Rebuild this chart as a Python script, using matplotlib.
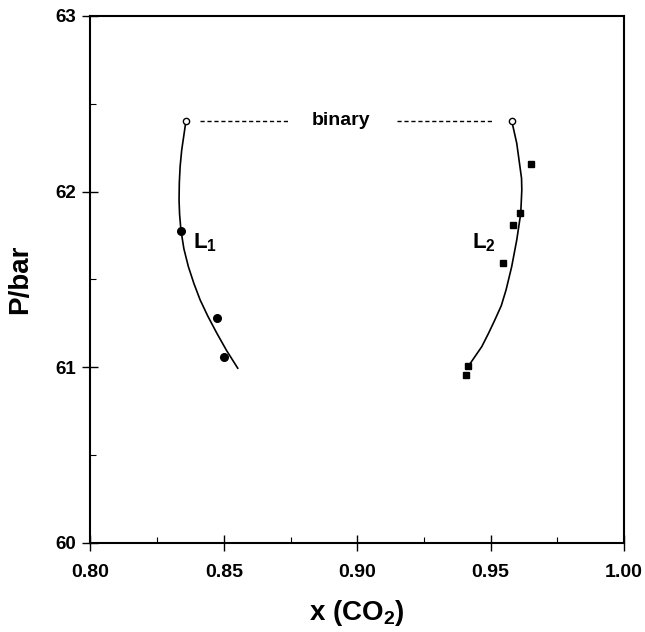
import matplotlib
matplotlib.use("Agg")
import matplotlib.pyplot as plt
from matplotlib.ticker import MultipleLocator

plt.rcParams['font.family'] = ['Liberation Sans', 'DejaVu Sans']
plt.rcParams['font.weight'] = 'bold'
plt.rcParams['mathtext.fontset'] = 'custom'
plt.rcParams['mathtext.rm'] = 'Liberation Sans:bold'
plt.rcParams['mathtext.default'] = 'rm'

# L1 branch: model curve and measured points
l1_curve_x = [0.8358, 0.8350, 0.8342, 0.8336, 0.8333, 0.8332, 0.8334, 0.8339, 0.8350,
              0.8367, 0.8388, 0.8411, 0.8440, 0.8473, 0.8510, 0.8552]
l1_curve_p = [62.404, 62.320, 62.237, 62.142, 62.050, 61.952, 61.870, 61.781, 61.675,
              61.572, 61.475, 61.383, 61.290, 61.195, 61.095, 60.994]
l1_x = [0.8338, 0.8475, 0.8500]
l1_p = [61.776, 61.279, 61.056]

# L2 branch
l2_curve_x = [0.9579, 0.9598, 0.9610, 0.9616, 0.9617, 0.9613, 0.9598, 0.9579, 0.9558,
              0.9540, 0.9516, 0.9492, 0.9467, 0.9420]
l2_curve_p = [62.404, 62.275, 62.142, 62.075, 62.009, 61.876, 61.724, 61.572, 61.440,
              61.350, 61.269, 61.192, 61.117, 61.013]
l2_x = [0.9650, 0.9610, 0.9583, 0.9545, 0.9416, 0.9408]
l2_p = [62.157, 61.880, 61.808, 61.595, 61.009, 60.956]

# binary end points and tie line
binary_x = [0.8358, 0.9579]
binary_p = [62.404, 62.404]
tie_left_x = [0.8411, 0.8749]
tie_right_x = [0.9149, 0.9505]

fig = plt.figure(figsize=(6.45, 6.32), dpi=100)
ax = fig.add_axes([0.1403, 0.1413, 0.8271, 0.8334])

ax.plot(l1_curve_x, l1_curve_p, color='black', lw=1.2)
ax.plot(l2_curve_x, l2_curve_p, color='black', lw=1.2)
ax.plot(l1_x, l1_p, 'o', color='black', ms=5.5)
ax.plot(l2_x, l2_p, 's', color='black', ms=5)
ax.plot(binary_x, binary_p, 'o', mfc='white', mec='black', ms=4.5, mew=1)
ax.plot(tie_left_x, [binary_p[0]] * 2, color='black', lw=1, ls=(0, (3, 2)))
ax.plot(tie_right_x, [binary_p[0]] * 2, color='black', lw=1, ls=(0, (3, 2)))

ax.text(0.8939, 62.404, 'binary', ha='center', va='center', fontsize=14, fontweight='bold')
ax.text(0.8385, 61.707, 'L$_1$', ha='left', va='center', fontsize=16, fontweight='bold')
ax.text(0.9429, 61.707, 'L$_2$', ha='left', va='center', fontsize=16, fontweight='bold')

ax.set_xlim(0.80, 1.00)
ax.set_ylim(60, 63)
ax.xaxis.set_major_locator(MultipleLocator(0.05))
ax.xaxis.set_minor_locator(MultipleLocator(0.025))
ax.yaxis.set_major_locator(MultipleLocator(1))
ax.yaxis.set_minor_locator(MultipleLocator(0.5))
ax.xaxis.set_major_formatter(matplotlib.ticker.FormatStrFormatter('%.2f'))

ax.tick_params(which='major', direction='inout', length=11, width=1)
ax.tick_params(which='minor', direction='in', length=4, width=0.8)
ax.tick_params(axis='x', which='major', pad=10, labelsize=14)
ax.tick_params(axis='y', which='major', pad=5, labelsize=13.5)
ax.tick_params(top=False, right=False, which='both')
for s in ax.spines.values():
    s.set_linewidth(1.5)
for lab in ax.get_xticklabels() + ax.get_yticklabels():
    lab.set_fontweight('bold')

ax.set_xlabel('x (CO$_2$)', fontsize=20, fontweight='bold', labelpad=12)
ax.set_ylabel('P/bar', fontsize=20, fontweight='bold', labelpad=16)

fig.savefig('out.png', dpi=100)
